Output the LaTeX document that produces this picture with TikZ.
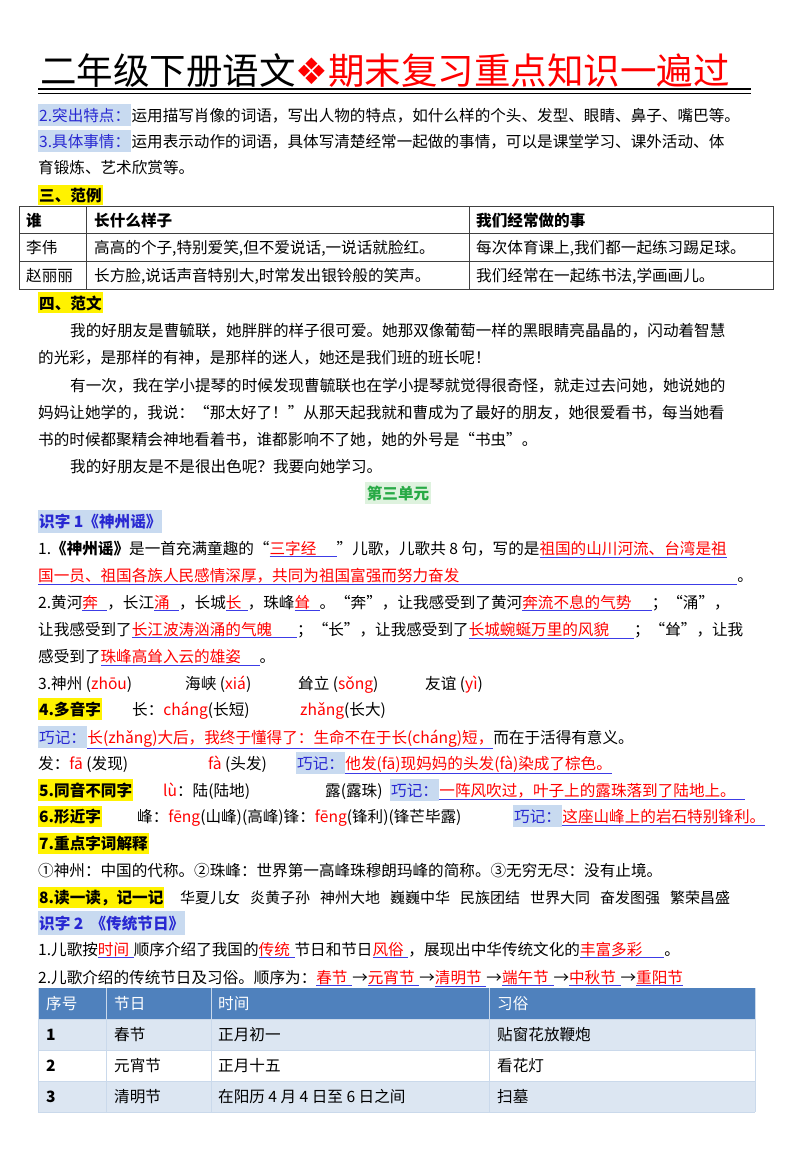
\documentclass[tikz,border=0pt]{standalone}
\usepackage{fontspec}
\setmainfont{Noto Sans CJK SC}
\newfontfamily\dv{DejaVu Sans}
\usetikzlibrary{calc}
\definecolor{ulblue}{RGB}{60,60,230}
\definecolor{hdblue}{RGB}{40,40,210}
\definecolor{boxblue}{RGB}{200,218,240}
\definecolor{tabhead}{RGB}{79,129,189}
\definecolor{tabrow}{RGB}{220,230,242}
\definecolor{unitgreen}{RGB}{40,170,70}
\definecolor{unitbg}{RGB}{222,242,222}
\newcommand\ans[2][0pt]{\textcolor{ulblue}{\underline{\textcolor{red}{#2}\hspace{#1}}}}
\newcommand\rd[1]{\textcolor{red}{#1}}
\newcommand\body{\fontsize{15.6}{16}\selectfont}
\tikzset{
  txt/.style={anchor=base west, inner sep=0pt, font=\body},
  yhead/.style={txt, fill=yellow, inner xsep=1pt, inner ysep=3pt, font=\body\bfseries},
  bhead/.style={txt, fill=boxblue, inner xsep=1pt, inner ysep=4pt, text=hdblue},
  qj/.style={bhead, text=hdblue}
}
\begin{document}
\begin{tikzpicture}[x=1pt, y=-1pt]
\useasboundingbox (0,0) rectangle (800,1159);
\fill[white] (0,0) rectangle (800,1159);

% title
\node (title) [txt, font=\fontsize{36.5}{40}\selectfont] at (40,84)
  {二年级下册语文\textcolor{red}{{\dv ❖}期末复习重点知识一遍过}};
\draw[line width=2pt] (38,89) -- (751,89);
\draw[line width=0.8pt] (38,93.5) -- (751,93.5);

% writing tips
\node (tip2) [bhead] at (38,121) {2.突出特点：};
\node (tip2t) [txt, anchor=base west] at (tip2.base east) {运用描写肖像的词语，写出人物的特点，如什么样的个头、发型、眼睛、鼻子、嘴巴等。};
\node (tip3) [bhead] at (38,147) {3.具体事情：};
\node (tip3t) [txt, anchor=base west] at (tip3.base east) {运用表示动作的词语，具体写清楚经常一起做的事情，可以是课堂学习、课外活动、体};
\node (tip3c) [txt] at (38,173) {育锻炼、艺术欣赏等。};
\node (ex) [yhead] at (38,201) {三、范例};

% example table
\draw[thick, black!75] (19,206) rectangle (773,289);
\foreach \y in {233,261} \draw[thick, black!75] (19,\y) -- (773,\y);
\foreach \x in {86,469} \draw[thick, black!75] (\x,206) -- (\x,289);
\node (c11) [txt, font=\body\bfseries] at (26,226) {谁};
\node (c12) [txt, font=\body\bfseries] at (94,226) {长什么样子};
\node (c13) [txt, font=\body\bfseries] at (476,226) {我们经常做的事};
\node (c21) [txt] at (26,253) {李伟};
\node (c22) [txt] at (94,253) {高高的个子,特别爱笑,但不爱说话,一说话就脸红。};
\node (c23) [txt] at (476,253) {每次体育课上,我们都一起练习踢足球。};
\node (c31) [txt] at (26,281) {赵丽丽};
\node (c32) [txt] at (94,281) {长方脸,说话声音特别大,时常发出银铃般的笑声。};
\node (c33) [txt] at (476,281) {我们经常在一起练书法,学画画儿。};

% sample essay
\node (essay) [yhead] at (38,309) {四、范文};
\node (p1) [txt] at (70,336) {我的好朋友是曹毓联，她胖胖的样子很可爱。她那双像葡萄一样的黑眼睛亮晶晶的，闪动着智慧};
\node (p2) [txt] at (38,363) {的光彩，是那样的有神，是那样的迷人，她还是我们班的班长呢！};
\node (p3) [txt] at (70,391) {有一次，我在学小提琴的时候发现曹毓联也在学小提琴就觉得很奇怪，就走过去问她，她说她的};
\node (p4) [txt] at (38,418) {妈妈让她学的，我说：“那太好了！”从那天起我就和曹成为了最好的朋友，她很爱看书，每当她看};
\node (p5) [txt] at (38,445) {书的时候都聚精会神地看着书，谁都影响不了她，她的外号是“书虫”。};
\node (p6) [txt] at (70,472) {我的好朋友是不是很出色呢？我要向她学习。};

% unit three
\node (unit) [txt, anchor=base, fill=unitbg, inner xsep=2pt, inner ysep=4pt, text=unitgreen, font=\body\bfseries] at (398,499) {第三单元};
\node (sz1) [bhead, font=\body\bfseries] at (38,527) {识字 1《神州谣》};
\node (a1) [txt] at (38,554) {1.\textbf{《神州谣》}是一首充满童趣的“\ans[1.3em]{三字经}”儿歌，儿歌共 8 句，写的是\ans{祖国的山川河流、台湾是祖}};
\node (a1b) [txt] at (38,581) {\ans[278pt]{国一员、祖国各族人民感情深厚，共同为祖国富强而努力奋发}。};
\node (a2) [txt] at (38,608) {2.黄河\ans[0.6em]{奔}，长江\ans[0.6em]{涌}，长城\ans[0.4em]{长}，珠峰\ans[0.6em]{耸}。“奔”，让我感受到了黄河\ans[1.3em]{奔流不息的气势}；“涌”，};
\node (a2b) [txt] at (38,635) {让我感受到了\ans[1.6em]{长江波涛汹涌的气魄}；“长”，让我感受到了\ans[1.6em]{长城蜿蜒万里的风貌}；“耸”，让我};
\node (a2c) [txt] at (38,662) {感受到了\ans[1.2em]{珠峰高耸入云的雄姿}。};
\node (a3) [txt] at (38,689) {3.神州 (\rd{zhōu})};
\node (a3b) [txt] at (185,689) {海峡 (\rd{xiá})};
\node (a3c) [txt] at (298,689) {耸立 (\rd{sǒng})};
\node (a3d) [txt] at (425,689) {友谊 (\rd{yì})};
\node (a4) [yhead] at (38,715) {4.多音字};
\node (a4b) [txt] at (132,715) {长：\rd{cháng}(长短)};
\node (a4c) [txt] at (300,715) {\rd{zhǎng}(长大)};
\node (q1) [qj] at (38,743) {巧记：};
\node (q1t) [txt, anchor=base west] at (q1.base east) {\ans{长(\rd{zhǎng})大后，我终于懂得了：生命不在于长(\rd{cháng})短，}而在于活得有意义。};
\node (a4d) [txt] at (38,769) {发：\rd{fā} (发现)};
\node (a4e) [txt] at (208,769) {\rd{fà} (头发)};
\node (q2) [qj] at (296,769) {巧记：};
\node (q2t) [txt, anchor=base west] at (q2.base east) {\ans{他发(\rd{fā})现妈妈的头发(\rd{fà})染成了棕色。}};
\node (a5) [yhead] at (38,796) {5.同音不同字};
\node (a5b) [txt] at (163,796) {\rd{lù}：陆(陆地)};
\node (a5c) [txt] at (325,796) {露(露珠)};
\node (q3) [qj] at (390,796) {巧记：};
\node (q3t) [txt, anchor=base west] at (q3.base east) {\ans[0.6em]{一阵风吹过，叶子上的露珠落到了陆地上。}};
\node (a6) [yhead] at (38,822) {6.形近字};
\node (a6b) [txt] at (137,822) {峰：\rd{fēng}(山峰)(高峰)锋：\rd{fēng}(锋利)(锋芒毕露)};
\node (q4) [qj] at (513,822) {巧记：};
\node (q4t) [txt, anchor=base west] at (q4.base east) {\ans{这座山峰上的岩石特别锋利。}};
\node (a7) [yhead] at (38,849) {7.重点字词解释};
\node (a7b) [txt] at (38,876) {①神州：中国的代称。②珠峰：世界第一高峰珠穆朗玛峰的简称。③无穷无尽：没有止境。};
\node (a8) [yhead] at (38,903) {8.读一读，记一记};
\node (a8b) [txt, font=\fontsize{15}{16}\selectfont] at (180,903) {华夏儿女\hspace{10pt}炎黄子孙\hspace{10pt}神州大地\hspace{10pt}巍巍中华\hspace{10pt}民族团结\hspace{10pt}世界大同\hspace{10pt}奋发图强\hspace{10pt}繁荣昌盛};

% literacy two
\node (sz2) [bhead, font=\body\bfseries] at (38,929) {识字 2 \ 《传统节日》};
\node (b1) [txt] at (38,955) {1.儿歌按\ans[0.3em]{时间}顺序介绍了我国的\ans[0.3em]{传统}节日和节日\ans[0.3em]{风俗}，展现出中华传统文化的\ans[1.4em]{丰富多彩}。};
\node (b2) [txt] at (38,983) {2.儿歌介绍的传统节日及习俗。顺序为：\ans[0.3em]{春节}→\ans[0.3em]{元宵节}→\ans[0.3em]{清明节}→\ans[0.3em]{端午节}→\ans[0.3em]{中秋节}→\ans{重阳节}};

% festival table
\fill[tabhead] (38,988) rectangle (755,1019);
\fill[tabrow] (38,1019) rectangle (755,1050);
\fill[tabrow] (38,1081) rectangle (755,1112);
\foreach \y in {1019,1050,1081,1112} \draw[white!70!tabhead, line width=1pt] (38,\y) -- (755,\y);
\foreach \x in {38,106,211,489,755} \draw[white!70!tabhead, line width=1pt] (\x,988) -- (\x,1112);
\node (h1) [txt, text=white] at (46,1009) {序号};
\node (h2) [txt, text=white] at (114,1009) {节日};
\node (h3) [txt, text=white] at (218,1009) {时间};
\node (h4) [txt, text=white] at (497,1009) {习俗};
\node (r11) [txt, font=\body\bfseries] at (46,1040) {1};
\node (r12) [txt] at (114,1040) {春节};
\node (r13) [txt] at (218,1040) {正月初一};
\node (r14) [txt] at (497,1040) {贴窗花放鞭炮};
\node (r21) [txt, font=\body\bfseries] at (46,1071) {2};
\node (r22) [txt] at (114,1071) {元宵节};
\node (r23) [txt] at (218,1071) {正月十五};
\node (r24) [txt] at (497,1071) {看花灯};
\node (r31) [txt, font=\body\bfseries] at (46,1102) {3};
\node (r32) [txt] at (114,1102) {清明节};
\node (r33) [txt] at (218,1102) {在阳历 4 月 4 日至 6 日之间};
\node (r34) [txt] at (497,1102) {扫墓};
\end{tikzpicture}
\end{document}
